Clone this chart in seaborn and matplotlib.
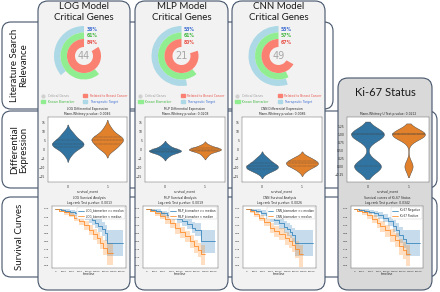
import matplotlib
matplotlib.use("Agg")
import matplotlib.pyplot as plt
import numpy as np
import pandas as pd
import seaborn as sns
from matplotlib.patches import FancyBboxPatch, Patch
from matplotlib.lines import Line2D

# %% data
models = ["LOG", "MLP", "CNN"]
gene_counts = [44, 21, 49]
pct_therapeutic = [36, 53, 55]
pct_biomarker = [61, 61, 57]
pct_breast = [84, 80, 67]

de_pvalues = ["0.0046", "0.0208", "0.0086"]
km_pvalues = ["0.0013", "0.0019", "0.0026"]

# differential expression samples (survival_event 0 / 1)
log_g0 = [-3, -1.5, 0, 0.8, 1.5, 2, 2.3, 2.7, 3, 3.4, 3.8, 4.3, 5, 5.7, 6.5, 7.5, 8.8, 10]
log_g1 = [-0.5, 0.8, 1.3, 2, 3, 4, 4.5, 5, 5.3, 5.7, 6.2, 6.7, 7.2, 8, 9, 10.5, 12.5]
mlp_g0 = [-4, -2.8, -2, -1.5, -1.2, -1, -0.8, -0.6, -0.4, -0.1, 0.3, 0.8, 1.6, 2.8]
mlp_g1 = [-3.6, -2.2, -1.4, -0.9, -0.5, -0.3, -0.1, 0.1, 0.3, 0.5, 0.8, 1.2, 1.8, 2.6]
cnn_g0 = [-13, -12, -11.3, -10.8, -10.3, -10, -9.6, -9.2, -8.8, -8.3, -7.8, -7, -6.2, -5.2, -4]
cnn_g1 = [-12, -10.5, -9.8, -9.2, -8.6, -8.2, -7.8, -7.4, -7, -6.6, -6, -5.4, -4.6, -3.8]

# Ki-67 status counts: (negative, positive) per survival_event
ki67_event0 = [45, 55]
ki67_event1 = [15, 60]

# Kaplan-Meier curves: biomarker >= median (hi) and < median (lo)
log_t_hi = [0, 1800, 3000, 4500, 6000, 7500, 9000, 10000, 11000, 12000, 13000, 14000, 15000, 15700, 20300]
log_s_hi = [1.0, 0.995, 0.99, 0.982, 0.975, 0.965, 0.955, 0.943, 0.93, 0.915, 0.897, 0.877, 0.85, 0.79, 0.79]
log_up_hi = [1.0, 1.0, 1.0, 0.995, 0.99, 0.985, 0.978, 0.97, 0.96, 0.95, 0.935, 0.92, 0.9, 0.87, 0.87]
log_lo_hi = [1.0, 0.985, 0.975, 0.965, 0.955, 0.943, 0.93, 0.915, 0.9, 0.88, 0.86, 0.835, 0.8, 0.71, 0.71]
log_t_lo = [0, 1000, 2500, 4000, 5500, 7000, 8500, 10000, 11500, 12600, 13500, 14500, 15500, 17400]
log_s_lo = [1.0, 0.99, 0.978, 0.964, 0.945, 0.923, 0.9, 0.87, 0.845, 0.82, 0.79, 0.76, 0.727, 0.727]
log_up_lo = [1.0, 1.0, 0.99, 0.98, 0.965, 0.948, 0.928, 0.9, 0.878, 0.856, 0.83, 0.805, 0.79, 0.79]
log_lo_lo = [1.0, 0.98, 0.965, 0.948, 0.925, 0.898, 0.872, 0.84, 0.81, 0.783, 0.75, 0.715, 0.655, 0.655]

mlp_t_hi = [0, 1500, 3000, 4500, 6000, 7500, 9000, 10500, 12000, 13500, 14500, 16100, 20300]
mlp_s_hi = [1.0, 0.995, 0.985, 0.975, 0.965, 0.952, 0.94, 0.925, 0.905, 0.885, 0.87, 0.8, 0.8]
mlp_up_hi = [1.0, 1.0, 0.997, 0.99, 0.983, 0.974, 0.965, 0.953, 0.937, 0.92, 0.91, 0.87, 0.87]
mlp_lo_hi = [1.0, 0.985, 0.972, 0.958, 0.945, 0.93, 0.915, 0.897, 0.873, 0.85, 0.83, 0.73, 0.73]
mlp_t_lo = [0, 1000, 2500, 4000, 5500, 7000, 8500, 10000, 11500, 13000, 14200, 15300, 16200, 17400]
mlp_s_lo = [1.0, 0.99, 0.975, 0.958, 0.935, 0.91, 0.88, 0.855, 0.83, 0.8, 0.77, 0.745, 0.72, 0.72]
mlp_up_lo = [1.0, 1.0, 0.99, 0.978, 0.96, 0.938, 0.91, 0.888, 0.865, 0.838, 0.81, 0.79, 0.775, 0.775]
mlp_lo_lo = [1.0, 0.978, 0.958, 0.936, 0.908, 0.88, 0.848, 0.82, 0.793, 0.76, 0.728, 0.7, 0.655, 0.655]

cnn_t_hi = [0, 1500, 3000, 4500, 6000, 7200, 8500, 10000, 11500, 12500, 13400, 14000, 14800, 20300]
cnn_s_hi = [1.0, 0.995, 0.987, 0.975, 0.96, 0.945, 0.93, 0.91, 0.89, 0.875, 0.86, 0.84, 0.79, 0.79]
cnn_up_hi = [1.0, 1.0, 1.0, 0.992, 0.982, 0.97, 0.958, 0.942, 0.925, 0.912, 0.9, 0.885, 0.87, 0.87]
cnn_lo_hi = [1.0, 0.985, 0.972, 0.956, 0.937, 0.918, 0.9, 0.876, 0.852, 0.835, 0.818, 0.793, 0.71, 0.71]
cnn_t_lo = [0, 1000, 2500, 4000, 5500, 7150, 8500, 10000, 11900, 13000, 14000, 14800, 16000, 17400]
cnn_s_lo = [1.0, 0.988, 0.97, 0.945, 0.92, 0.885, 0.862, 0.845, 0.82, 0.8, 0.78, 0.75, 0.72, 0.72]
cnn_up_lo = [1.0, 1.0, 0.985, 0.965, 0.945, 0.915, 0.895, 0.88, 0.858, 0.84, 0.823, 0.8, 0.78, 0.78]
cnn_lo_lo = [1.0, 0.975, 0.952, 0.923, 0.893, 0.853, 0.828, 0.808, 0.78, 0.757, 0.733, 0.698, 0.64, 0.64]

ki_t_neg = [0, 1500, 3000, 4500, 6000, 7500, 9000, 10500, 12000, 13000, 14000, 15000, 16000, 20300]
ki_s_neg = [1.0, 0.995, 0.99, 0.982, 0.972, 0.96, 0.945, 0.925, 0.895, 0.87, 0.84, 0.815, 0.79, 0.79]
ki_up_neg = [1.0, 1.0, 1.0, 0.995, 0.988, 0.98, 0.968, 0.953, 0.93, 0.91, 0.888, 0.87, 0.87, 0.87]
ki_lo_neg = [1.0, 0.985, 0.977, 0.966, 0.953, 0.938, 0.92, 0.895, 0.858, 0.828, 0.792, 0.76, 0.71, 0.71]
ki_t_pos = [0, 1000, 2500, 4000, 5500, 7000, 8000, 9500, 11000, 12500, 14000, 15000, 16000, 17400]
ki_s_pos = [1.0, 0.99, 0.978, 0.962, 0.94, 0.915, 0.893, 0.868, 0.84, 0.81, 0.77, 0.745, 0.72, 0.72]
ki_up_pos = [1.0, 1.0, 0.992, 0.98, 0.963, 0.943, 0.925, 0.902, 0.877, 0.85, 0.815, 0.795, 0.78, 0.78]
ki_lo_pos = [1.0, 0.978, 0.96, 0.94, 0.912, 0.882, 0.857, 0.828, 0.797, 0.763, 0.718, 0.69, 0.645, 0.645]

# %% style
sns.set_style("white")
plt.rcParams["font.family"] = ["DejaVu Sans"]
W, H = 440, 292
EDGE = "#44546a"
BLUE, ORANGE = "#1f77b4", "#ff7f0e"

fig = plt.figure(figsize=(4.4, 2.92), dpi=100)
bg = fig.add_axes([0, 0, 1, 1])
bg.set_xlim(0, W)
bg.set_ylim(H, 0)
bg.axis("off")


def rbox(x0, y0, x1, y1, fc, r=9):
    bg.add_patch(FancyBboxPatch((x0, y0), x1 - x0, y1 - y0,
                                boxstyle=f"round,pad=0,rounding_size={r}",
                                fc=fc, ec=EDGE, lw=0.8))


def pax(x0, y0, x1, y1):
    return fig.add_axes([x0 / W, 1 - y1 / H, (x1 - x0) / W, (y1 - y0) / H])


# row boxes
rbox(2, 22, 333, 109, "white")
rbox(2, 111, 437, 188, "white")
rbox(2, 197, 437, 277, "white")
row_font = dict(family="Lato", fontsize=7, color="#1a1a1a", rotation=90,
                ha="center", va="center", linespacing=1.1)
bg.text(19, 65, "Literature Search\nRelevance", **row_font)
bg.text(19, 150, "Differential\nExpression", **row_font)
bg.text(19, 237, "Survival Curves", **row_font)

# column panels
panels = [(38, 130), (135, 228), (232, 325)]
for (x0, x1), m in zip(panels, models):
    rbox(x0, 1, x1, 290, "#f2f2f2", r=10)
    bg.text((x0 + x1) / 2, 12, f"{m} Model\nCritical Genes", family="Lato",
            fontsize=7, ha="center", va="center", color="#1a1a1a", linespacing=1.15)
rbox(338, 78, 432, 290, "#d9d9d9", r=10)
bg.text(385, 92, "Ki-67 Status", family="Lato", fontsize=8, ha="center",
        va="center", color="#1a1a1a")

# %% donuts
ring_cols = ["lightblue", "lightgreen", "salmon"]
text_cols = ["#3f6fd1", "#45b845", "#e8534a"]
radii = [1.0, 0.783, 0.567]
widths = [0.217, 0.217, 0.267]
handles = [Line2D([], [], marker="o", ls="", color="#d0d0d0", markersize=2),
           Patch(color="lightgreen"), Patch(color="salmon"), Patch(color="lightblue")]
leg_labels = ["Critical Genes", "Known Biomarker", "Related to Breast Cancer", "Therapeutic Target"]
leg_cols = ["#999999", "#45b845", "#e8534a", "#3f6fd1"]

for i, (x0, x1) in enumerate(panels):
    cx = (x0 + x1) / 2
    ax = pax(cx - 35, 21, cx + 35, 91)
    vals = [pct_therapeutic[i], pct_biomarker[i], pct_breast[i]]
    for v, r, w, c, tc in zip(vals, radii, widths, ring_cols, text_cols):
        ax.pie([v, 100 - v], radius=r, startangle=90, counterclock=True,
               colors=[c, "none"], wedgeprops=dict(width=w, lw=0))
        ax.text(0.08, r - w / 2, f"{v}%", color=tc, fontsize=3.3,
                fontweight="bold", ha="left", va="center")
    ax.text(0, 0, str(gene_counts[i]), color="#a6a6a6", fontsize=7,
            ha="center", va="center")
    ax.set_xlim(-35 / 30, 35 / 30)
    ax.set_ylim(-35 / 30, 35 / 30)
    ax.axis("off")
    leg = ax.legend(handles, leg_labels, ncol=2, fontsize=2.2, frameon=False,
                    loc="upper center", bbox_to_anchor=(cx / W, 1 - 91 / H),
                    bbox_transform=fig.transFigure, handlelength=1.4,
                    handleheight=0.9, columnspacing=3, labelspacing=0.6)
    for t, c in zip(leg.get_texts(), leg_cols):
        t.set_color(c)


# %% violins
def style_ax(ax, size=2.2):
    ax.tick_params(labelsize=size, length=1, width=0.3, pad=1)
    for s in ax.spines.values():
        s.set_linewidth(0.3)
        s.set_color("#555555")


def violin(ax, g0, g1, title, ylim=None):
    df = pd.DataFrame({"survival_event": ["0"] * len(g0) + ["1"] * len(g1),
                       "value": list(g0) + list(g1)})
    sns.violinplot(data=df, x="survival_event", y="value", hue="survival_event",
                   palette=[BLUE, ORANGE], inner="quart", linewidth=0.3,
                   legend=False, ax=ax)
    if ylim:
        ax.set_ylim(*ylim)
    ax.set_title(title, fontsize=2.2, pad=1.5, linespacing=1.2)
    ax.set_xlabel("survival_event", fontsize=2.2, labelpad=0.5)
    ax.set_ylabel("")
    style_ax(ax)


de_groups = [(log_g0, log_g1), (mlp_g0, mlp_g1), (cnn_g0, cnn_g1)]
for i, (x0, x1) in enumerate(panels):
    ax = pax(x0 + 10, 117, x1 - 3, 182)
    violin(ax, *de_groups[i],
           f"{models[i]} Differential Expression\nMann-Whitney p-value: {de_pvalues[i]}",
           ylim=(-18, 18))

ki_g0 = np.repeat([0, 1], ki67_event0)
ki_g1 = np.repeat([0, 1], ki67_event1)
ax = pax(347, 117, 429, 182)
violin(ax, ki_g0, ki_g1, "Mann-Whitney U Test p-value: 0.0212", ylim=(-0.49, 1.54))
ax.set_yticks([-0.25, 0, 0.25, 0.5, 0.75, 1.0, 1.25])


# %% survival curves
def km(ax, hi, lo, labels, title):
    for (t, s, up, dn), lab, c in zip([hi, lo], labels, [BLUE, ORANGE]):
        ax.fill_between(t, dn, up, step="post", color=c, alpha=0.25, lw=0)
        ax.step(t, s, where="post", color=c, lw=0.5, label=lab)
    ax.set_xlim(-1000, 21300)
    ax.set_ylim(0.635, 1.018)
    ax.set_xticks(np.arange(0, 20001, 2500))
    ax.set_yticks(np.arange(0.65, 1.001, 0.05))
    ax.yaxis.set_major_formatter("{x:.2f}")
    ax.set_title(title, fontsize=2.2, pad=1.5, linespacing=1.2)
    ax.set_xlabel("timeline", fontsize=2.2, labelpad=0.5)
    ax.legend(loc="upper right", fontsize=2, frameon=True, handlelength=2,
              borderpad=0.4, framealpha=1).get_frame().set_linewidth(0.3)
    style_ax(ax, size=1.7)


km_sets = [
    ((log_t_hi, log_s_hi, log_up_hi, log_lo_hi), (log_t_lo, log_s_lo, log_up_lo, log_lo_lo)),
    ((mlp_t_hi, mlp_s_hi, mlp_up_hi, mlp_lo_hi), (mlp_t_lo, mlp_s_lo, mlp_up_lo, mlp_lo_lo)),
    ((cnn_t_hi, cnn_s_hi, cnn_up_hi, cnn_lo_hi), (cnn_t_lo, cnn_s_lo, cnn_up_lo, cnn_lo_lo)),
]
km_x = [(52, 126), (143, 218), (243, 316)]
for i, (x0, x1) in enumerate(km_x):
    ax = pax(x0, 206, x1, 268)
    km(ax, *km_sets[i],
       [f"{models[i]}_biomarker >= median", f"{models[i]}_biomarker < median"],
       f"{models[i]} Survival Analysis\nLog-rank Test p-value: {km_pvalues[i]}")

ax = pax(351, 206, 423, 268)
km(ax, (ki_t_neg, ki_s_neg, ki_up_neg, ki_lo_neg), (ki_t_pos, ki_s_pos, ki_up_pos, ki_lo_pos),
   ["Ki-67 Negative", "Ki-67 Positive"],
   "Survival curves of Ki-67 Status\nLog-rank Test p-value: 0.0342")

fig.savefig("out.png", dpi=100)
